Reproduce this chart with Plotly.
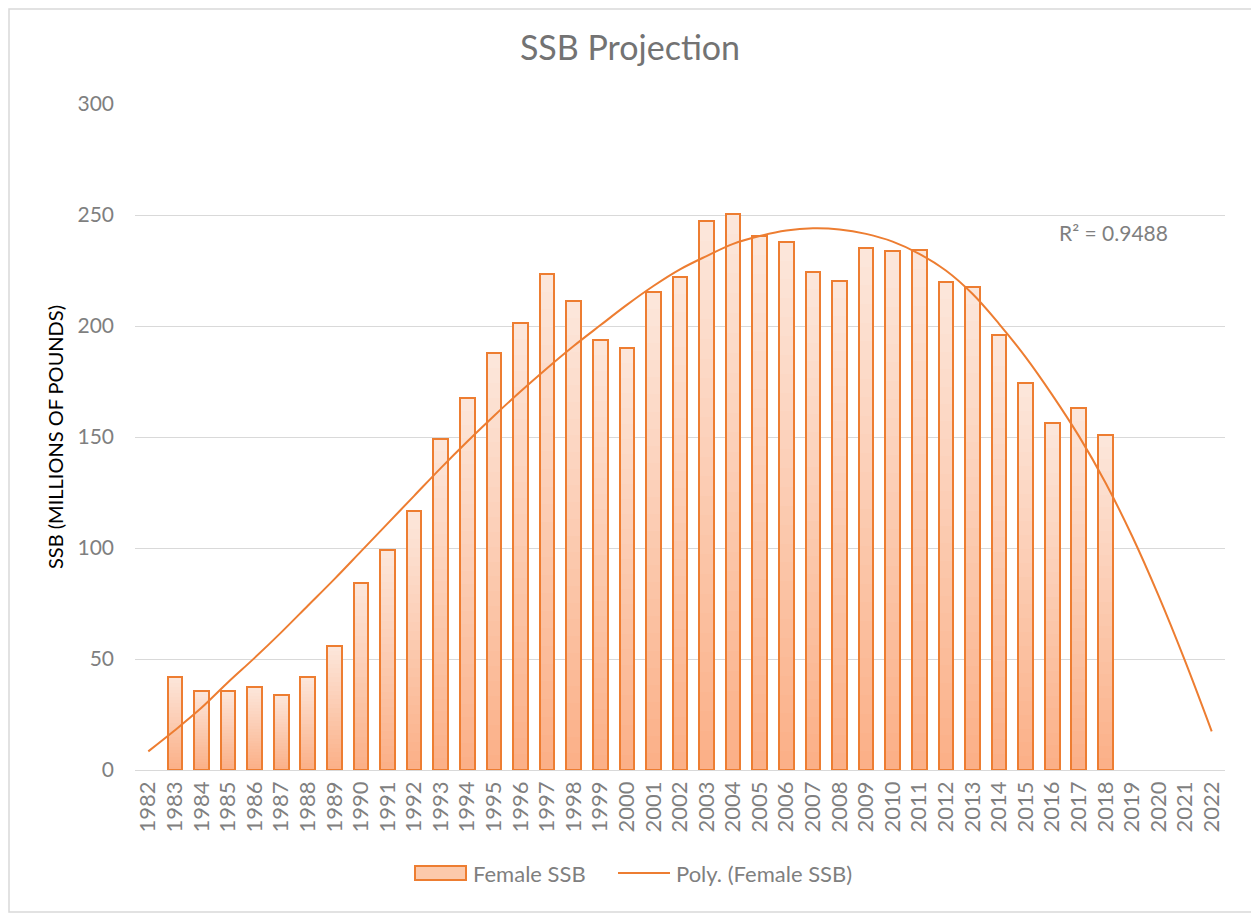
import numpy as np
import plotly.graph_objects as go

# ---- data ----
years = list(range(1983, 2019))
female_ssb = [42.0, 35.6, 35.8, 37.2, 33.9, 41.7, 55.7, 84.2, 99.0, 116.7,
              149.0, 167.6, 187.8, 201.5, 223.4, 211.1, 193.7, 190.0, 215.3, 222.2,
              247.1, 250.5, 240.4, 238.0, 224.5, 220.3, 235.1, 233.8, 234.2, 219.8,
              217.6, 196.0, 174.2, 156.3, 163.1, 151.0]
# polynomial trendline as drawn in the reference (read at each category, 1982-2022)
trend_years = list(range(1982, 2023))
trend_values = [8.4, 17.9, 28.0, 39.5, 50.5, 62.0, 74.0, 86.0, 98.5, 111.0,
                123.5, 136.0, 148.0, 159.5, 170.5, 181.0, 191.0, 200.3, 209.5, 218.0,
                225.5, 231.5, 237.0, 240.5, 243.0, 244.0, 243.5, 241.5, 238.0, 232.5,
                225.0, 214.5, 201.0, 186.0, 169.0, 150.5, 129.5, 105.5, 78.5, 49.0,
                17.4]
axis_years = list(range(1982, 2023))
y_ticks = [0, 50, 100, 150, 200, 250, 300]
r2_label = "R² = 0.9488"

FONT = "Lato"
GRAY = "#7f7f7f"
ORANGE = "#ed7d31"

# page offset (body margin) and plot-area geometry in page pixels
OFF = 8
PL, PR, PT, PB = 135, 1225, 104, 770
W, H = 1259 - OFF, 919 - OFF


def px(x):
    return (x - PL) / (PR - PL)


def py(y):
    return (PB - y) / (PB - PT)


fig = go.Figure()

# gradient bars (light top -> darker bottom), drawn as overlapping bars
N = 28
top_c = np.array([253, 233, 222])
bot_c = np.array([251, 176, 136])
vals = np.array(female_ssb)
for i in range(N):
    frac = (N - i) / N
    t = (frac - 1 / N)
    c = bot_c + (top_c - bot_c) * t
    fig.add_trace(go.Bar(
        x=years, y=vals * frac, width=0.55,
        marker=dict(color=f"rgb({int(c[0])},{int(c[1])},{int(c[2])})", line=dict(width=0)),
        showlegend=False, hoverinfo="skip"))

# outline
fig.add_trace(go.Bar(
    x=years, y=female_ssb, width=0.55, name="Female SSB",
    marker=dict(color="rgba(0,0,0,0)", line=dict(color=ORANGE, width=2)),
    showlegend=False))

# trendline
fig.add_trace(go.Scatter(
    x=trend_years, y=trend_values, mode="lines", name="Poly. (Female SSB)",
    line=dict(color=ORANGE, width=2, shape="spline", smoothing=1.0), showlegend=False))

fig.add_annotation(x=2018.3, y=242, text=r2_label, showarrow=False,
                   font=dict(family=FONT, size=21, color=GRAY))

# chart border
fig.add_shape(type="rect", xref="paper", yref="paper",
              x0=px(9), x1=px(1252), y0=py(912), y1=py(9),
              line=dict(color="#d9d9d9", width=1.5), fillcolor="rgba(0,0,0,0)",
              layer="below")

# legend (manual)
LY = 873
fig.add_shape(type="rect", xref="paper", yref="paper",
              x0=px(415), x1=px(466), y0=py(880), y1=py(866),
              line=dict(color=ORANGE, width=2), fillcolor="#fcc9ab")
fig.add_annotation(xref="paper", yref="paper", x=px(471), y=py(LY),
                   xanchor="left", yanchor="middle", showarrow=False,
                   text="Female SSB", font=dict(family=FONT, size=22, color=GRAY))
fig.add_shape(type="line", xref="paper", yref="paper",
              x0=px(618), x1=px(670), y0=py(LY), y1=py(LY),
              line=dict(color=ORANGE, width=2))
fig.add_annotation(xref="paper", yref="paper", x=px(674), y=py(LY),
                   xanchor="left", yanchor="middle", showarrow=False,
                   text="Poly. (Female SSB)", font=dict(family=FONT, size=22, color=GRAY))

fig.update_layout(
    width=W, height=H,
    margin=dict(l=PL - OFF, r=W - (PR - OFF), t=PT - OFF, b=H - (PB - OFF)),
    paper_bgcolor="white", plot_bgcolor="white",
    barmode="overlay", bargap=0,
    font=dict(family=FONT, color=GRAY, size=21),
    title=dict(text="SSB Projection", x=(630 - OFF) / W, xref="container", xanchor="center",
               y=1 - (48 - OFF) / H, yref="container", yanchor="middle",
               font=dict(family=FONT, size=34, color="#737373")),
    showlegend=False,
)

fig.update_xaxes(
    range=[1981.5, 2022.5], tickmode="array", tickvals=axis_years,
    ticktext=[str(y) for y in axis_years], tickangle=-90,
    showgrid=False, zeroline=False, showline=False, ticks="",
    ticklabelstandoff=6,
    tickfont=dict(family=FONT, size=22, color=GRAY), automargin=False)

fig.update_yaxes(
    range=[0, 300], tickmode="array", tickvals=y_ticks,
    showgrid=True, gridcolor="#d9d9d9", gridwidth=1.3,
    zeroline=True, zerolinecolor="#d9d9d9", zerolinewidth=1.3,
    showline=False, ticks="", ticklabelstandoff=20,
    tickfont=dict(family=FONT, size=21, color=GRAY),
    title=dict(text="SSB (MILLIONS OF POUNDS)", standoff=8,
               font=dict(family=FONT, size=20, color="black")),
    automargin=False)

fig.write_html("out.html")
